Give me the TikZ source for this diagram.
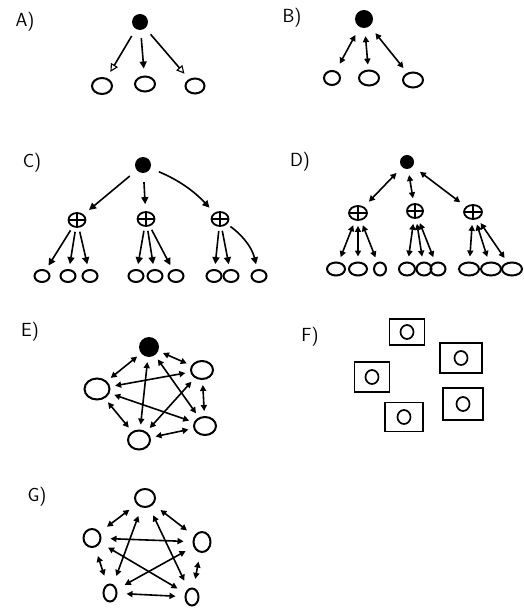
\documentclass[tikz,border=0pt]{standalone}
\usetikzlibrary{arrows.meta,shapes.geometric}
\begin{document}
\begin{tikzpicture}[x=1pt,y=-1pt,
  lab/.style={font=\sffamily\fontsize{19}{21}\selectfont,inner sep=0pt},
  hub/.style={circle,fill=black,inner sep=0pt,minimum size=#1},
  leaf/.style={ellipse,draw,line width=2pt,inner sep=0pt,minimum width=18pt,minimum height=14pt},
  plusnode/.style={ellipse,draw,line width=1.8pt,inner sep=0pt,minimum width=17pt,minimum height=14pt,
    path picture={\draw[line width=1.5pt] (path picture bounding box.north) -- (path picture bounding box.south)
      (path picture bounding box.west) -- (path picture bounding box.east);}},
  fbox/.style={rectangle,draw,line width=1.5pt,inner sep=0pt},
  con/.style={line width=1.6pt,shorten <=6pt,shorten >=6pt},
  sgl/.style={con,-{Triangle[length=7pt,width=7pt]}},
  opn/.style={con,-{Triangle[open,length=8pt,width=8pt,line width=1.1pt]}},
  dbl/.style={con,{Triangle[length=6pt,width=6pt]}-{Triangle[length=6pt,width=6pt]}}
]
\useasboundingbox (0,0) rectangle (523,609);

% ---------- A ----------
\node[lab] (la) at (25,22) {A)};
\node[hub=16pt] (ha) at (140,22) {};
\node[leaf,minimum width=20pt,minimum height=16pt] (a1) at (102,86) {};
\node[leaf,minimum width=20pt,minimum height=15pt] (a2) at (145,84) {};
\node[leaf,minimum width=19pt,minimum height=15pt] (a3) at (195,86) {};
\draw[opn,shorten <=8pt,shorten >=7pt] (ha) -- (a1);
\draw[sgl,shorten <=8pt,shorten >=7pt] (ha) -- (a2);
\draw[opn,shorten <=8pt,shorten >=7pt] (ha) -- (a3);

% ---------- B ----------
\node[lab] (lb) at (292,18) {B)};
\node[hub=18pt] (hb) at (364,19) {};
\node[leaf,minimum width=16pt,minimum height=14pt] (b1) at (332,78) {};
\node[leaf,minimum width=20pt,minimum height=15pt] (b2) at (369,78) {};
\node[leaf,minimum width=20pt,minimum height=15pt] (b3) at (413,80) {};
\draw[dbl,shorten <=9pt,shorten >=8pt] (hb) -- (b1);
\draw[dbl,shorten <=8pt,shorten >=5pt] (hb) -- (b2);
\draw[dbl,shorten <=9pt,shorten >=6pt] (hb) -- (b3);

% ---------- C ----------
\node[lab] (lc) at (32,163) {C)};
\node[hub=16pt] (hc) at (143,165) {};
\node[plusnode] (c1) at (77,220) {};
\node[plusnode] (c2) at (146,219) {};
\node[plusnode] (c3) at (220,219) {};
\foreach \n/\x in {c11/42,c12/68,c13/90,c21/136,c22/155,c23/176,c31/214,c32/231,c33/259}
  \node[leaf,minimum width=15pt,minimum height=12pt] (\n) at (\x,276) {};
\draw[sgl,shorten <=9pt,shorten >=7pt] (hc) -- (c1);
\draw[sgl,shorten <=9pt,shorten >=7pt] (hc) -- (c2);
\draw[sgl,shorten <=9pt,shorten >=7pt] (hc) to[bend left=12] (c3);
\foreach \m/\a/\b/\c in {c1/c11/c12/c13,c2/c21/c22/c23,c3/c31/c32/c33}{
  \draw[sgl,shorten <=4pt,shorten >=5pt] (\m) -- (\a);
  \draw[sgl,shorten <=4pt,shorten >=5pt] (\m) -- (\b);
}
\draw[sgl,shorten <=4pt,shorten >=5pt] (c1) -- (c13);
\draw[sgl,shorten <=4pt,shorten >=5pt] (c2) -- (c23);
\draw[sgl,shorten <=4pt,shorten >=5pt] (c3) to[bend left=20] (c33);

% ---------- D ----------
\node[lab] (ld) at (300,162) {D)};
\node[hub=14pt] (hd) at (407,162) {};
\node[plusnode,minimum width=18pt] (d1) at (358,213) {};
\node[plusnode,minimum width=16pt] (d2) at (415,211) {};
\node[plusnode,minimum width=18pt] (d3) at (473,212) {};
\foreach \n/\x/\w in {d11/336/18,d12/358/18,d13/380/12,d21/407/16,d22/424/15,d23/438/15,d31/469/20,d32/491/20,d33/512/20}
  \node[leaf,minimum width=\w pt,minimum height=13pt] (\n) at (\x,269) {};
\draw[dbl,shorten <=8pt,shorten >=7pt] (hd) -- (d1);
\draw[dbl,shorten <=6pt,shorten >=5pt] (hd) -- (d2);
\draw[dbl,shorten <=9pt,shorten >=7pt] (hd) -- (d3);
\foreach \m/\a/\b/\c in {d1/d11/d12/d13,d2/d21/d22/d23,d3/d31/d32/d33}{
  \draw[dbl,shorten <=5pt,shorten >=5pt] (\m) -- (\a);
  \draw[dbl,shorten <=5pt,shorten >=5pt] (\m) -- (\b);
  \draw[dbl,shorten <=5pt,shorten >=5pt] (\m) -- (\c);
}

% ---------- E ----------
\node[lab] (le) at (30,332) {E)};
\node[hub=20pt] (eT) at (149,347) {};
\node[leaf,minimum width=22pt,minimum height=18pt] (eR) at (202,370) {};
\node[leaf,minimum width=25pt,minimum height=21pt] (eL) at (97,389) {};
\node[leaf,minimum width=22pt,minimum height=19pt] (eBL) at (139,440) {};
\node[leaf,minimum width=22pt,minimum height=18pt] (eBR) at (205,426) {};
\foreach \p/\q in {eT/eR,eR/eBR,eBR/eBL,eBL/eL,eL/eT,eT/eBL,eT/eBR,eR/eL,eR/eBL,eL/eBR}
  \draw[dbl,shorten <=5pt,shorten >=5pt] (\p) -- (\q);

% ---------- F ----------
\node[lab] (lf) at (310,337) {F)};
\foreach \n/\x/\y/\w/\h in {f1/407/332/35/26,f2/461/358/42/30,f3/372/377/35/30,f4/463/404/40/32,f5/404/417/38/29}{
  \node[fbox,minimum width=\w pt,minimum height=\h pt] (\n) at (\x,\y) {};
  \node[leaf,line width=1.7pt,minimum width=13pt,minimum height=14pt] (\n c) at (\n) {};
}

% ---------- G ----------
\node[lab] (lg) at (37,497) {G)};
\node[leaf,minimum width=20pt,minimum height=18pt] (gT) at (145,498) {};
\node[leaf,minimum width=17pt,minimum height=18pt] (gL) at (92,538) {};
\node[leaf,minimum width=17pt,minimum height=20pt] (gR) at (202,542) {};
\node[leaf,minimum width=13pt,minimum height=17pt] (gBL) at (110,593) {};
\node[leaf,minimum width=13pt,minimum height=17pt] (gBR) at (192,597) {};
\foreach \p/\q in {gT/gR,gR/gBR,gBR/gBL,gBL/gL,gL/gT,gT/gBL,gT/gBR,gR/gL,gR/gBL,gL/gBR}
  \draw[dbl,shorten <=9pt,shorten >=9pt] (\p) -- (\q);
\end{tikzpicture}
\end{document}
